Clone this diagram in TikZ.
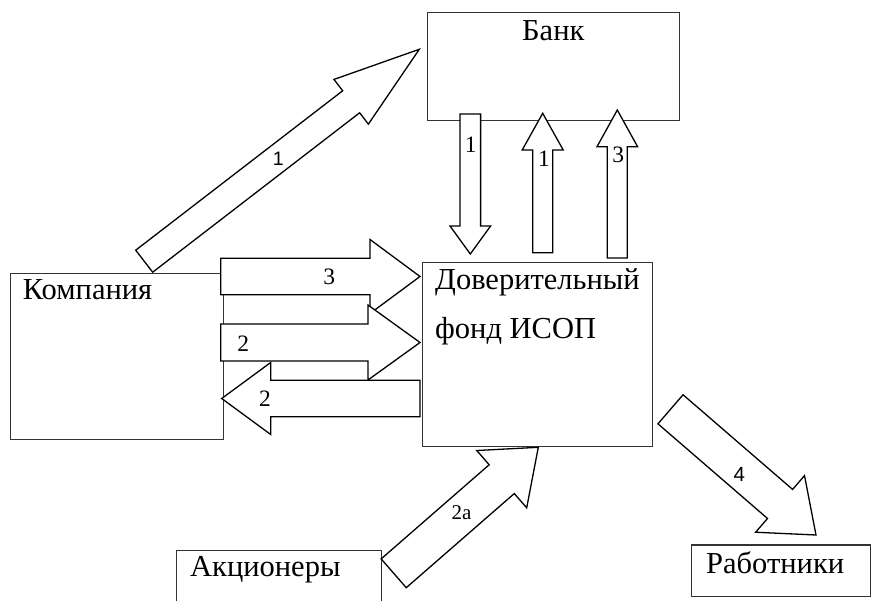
\documentclass[tikz,border=0pt]{standalone}
\usepackage{fontspec}
\setmainfont{Liberation Serif}
\newfontfamily\arialfont{Liberation Sans}
\usetikzlibrary{calc,positioning}

% block arrow: tail, tip, half shaft, half head, head length
\newcommand{\blockarrow}[5]{%
  \coordinate (hd) at ($(#2)!#5!(#1)$);
  \draw[barrow] ($(#1)!#3!90:(#2)$) -- ($(hd)!#3!-90:(#1)$) -- ($(hd)!#4!-90:(#1)$) -- (#2)
    -- ($(hd)!#4!90:(#1)$) -- ($(hd)!#3!90:(#1)$) -- ($(#1)!#3!-90:(#2)$) -- cycle;
}

\begin{document}
\begin{tikzpicture}[x=1pt,y=-1pt]
  \tikzset{box/.style={draw=black!80, line width=1.1pt, anchor=north west, inner sep=0pt, outer sep=0pt},
    barrow/.style={draw=black, fill=white, line width=1.3pt, line join=miter},
    boxtext/.style={font=\fontsize{30.5}{36}\selectfont, inner sep=0pt, anchor=base west},
    num/.style={font=\fontsize{23.5}{27}\selectfont, inner sep=0pt},
    snum/.style={font=\arialfont\fontsize{19.5}{23}\selectfont, inner sep=0pt}}
  \useasboundingbox (0,0) rectangle (873,601);
  % boxes
  \node[box, minimum width=252pt, minimum height=108.4pt] (bank) at (427.3,12.3) {};
  \node[box, minimum width=212.6pt, minimum height=166pt] (kompaniya) at (10.7,273.3) {};
  \node[box, minimum width=230pt, minimum height=184.4pt] (fond) at (422.5,262.3) {};
  \node[box, minimum width=205pt, minimum height=60pt] (aktsionery) at (176.7,550.7) {};
  \node[box, minimum width=179pt, minimum height=51.7pt] (rabotniki) at (691.7,545) {};
  \node[boxtext, anchor=base] (bank-t) at ([yshift=-28.7pt]bank.north) {Банк};
  \node[boxtext] (kompaniya-t) at ([xshift=12pt,yshift=-26.7pt]kompaniya.north west) {Компания};
  \node[boxtext] (fond-t1) at ([xshift=12.5pt,yshift=-27.7pt]fond.north west) {Доверительный};
  \node[boxtext] (fond-t2) at ([xshift=12.5pt,yshift=-76pt]fond.north west) {фонд ИСОП};
  \node[boxtext] (aktsionery-t) at ([xshift=13.3pt,yshift=-26pt]aktsionery.north west) {Акционеры};
  \node[boxtext] (rabotniki-t) at ([xshift=14.3pt,yshift=-28.3pt]rabotniki.north west) {Работники};
  % arrow ends
  \coordinate (k1) at (144.2,261.2);   \coordinate (b1) at (419.3,49.3);
  \coordinate (k3) at (220.7,276.5);   \coordinate (f3) at (420,276.5);
  \coordinate (k2) at (220.7,342.5);   \coordinate (f2) at (420,342.5);
  \coordinate (f2b) at (420,398.5);    \coordinate (k2b) at (221.7,398.5);
  \coordinate (b1d) at (470.3,114);    \coordinate (f1d) at (470.3,254);
  \coordinate (f1u) at (542.7,252.7);  \coordinate (b1u) at (542.7,113.3);
  \coordinate (f3u) at (617.3,258);    \coordinate (b3u) at (617.3,110);
  \coordinate (a2a) at (393.7,573.3);  \coordinate (f2a) at (538.3,447.3);
  \coordinate (f4) at (670.5,409.3);   \coordinate (r4) at (816,535);
  % arrows
  \blockarrow{k1}{b1}{13.9pt}{28.2pt}{86pt}
  \blockarrow{k3}{f3}{18.3pt}{37pt}{50pt}
  \blockarrow{k2}{f2}{18.5pt}{37.5pt}{52pt}
  \blockarrow{f2b}{k2b}{18.3pt}{36pt}{49pt}
  \blockarrow{b1d}{f1d}{10.3pt}{20.3pt}{28pt}
  \blockarrow{f1u}{b1u}{10pt}{20.5pt}{36.7pt}
  \blockarrow{f3u}{b3u}{10pt}{20.3pt}{36.7pt}
  \blockarrow{a2a}{f2a}{19.1pt}{38pt}{48.5pt}
  \blockarrow{f4}{r4}{19.2pt}{37.4pt}{47.5pt}
  % labels
  \node[snum] (n1) at (278.3,158.5) {1};
  \node[num] (n3) at (329.3,277.3) {3};
  \node[num] (n2) at (243.3,343.3) {2};
  \node[num] (n2b) at (265,398.3) {2};
  \node[num] (n1d) at (470.7,145) {1};
  \node[num] (n1u) at (544,158.3) {1};
  \node[num] (n3u) at (618.3,155) {3};
  \node[num, font=\fontsize{21}{25}\selectfont] (n2a) at (461.5,513) {2a};
  \node[snum, font=\arialfont\fontsize{20.5}{24}\selectfont] (n4) at (739.3,474.3) {4};
\end{tikzpicture}
\end{document}
